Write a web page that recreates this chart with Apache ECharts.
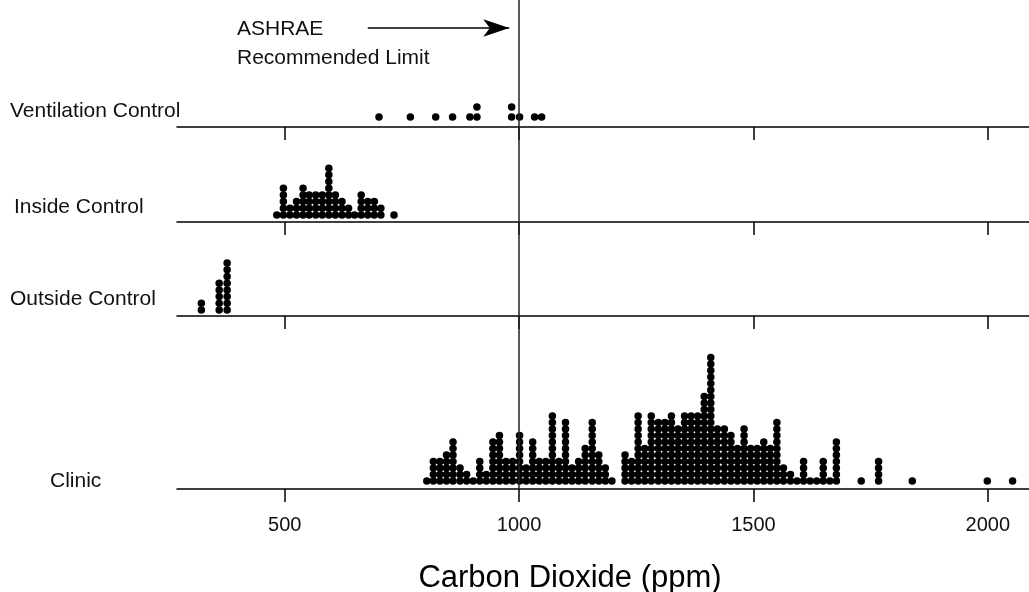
<!DOCTYPE html>
<html>
<head>
<meta charset="utf-8">
<script src="https://cdn.jsdelivr.net/npm/echarts@6/dist/echarts.min.js"></script>
<style>html,body{margin:0;padding:0;background:#fff}#c{width:1029px;height:592px}</style>
</head>
<body>
<div id="c"></div>
<script>
// ---- data (ppm bin centre, dots in column) ----
const panelNames = ['Ventilation Control', 'Inside Control', 'Outside Control', 'Clinic'];
const tickValues = [500, 1000, 1500, 2000];
const limitValue = 1000;

const ventX = [701, 768, 822, 858, 895, 910, 984, 1001, 1033, 1048];
const ventN = [1, 1, 1, 1, 1, 2, 2, 1, 1, 1];

const insideX = [483, 497, 511, 525, 539, 552, 566, 580, 594, 608, 622, 636, 649, 663, 677, 691, 705, 733];
const insideN = [1, 5, 2, 3, 5, 4, 4, 4, 8, 4, 3, 2, 1, 4, 3, 3, 2, 1];

const outsideX = [322, 360, 377];
const outsideN = [2, 5, 8];

const clinicX = [803, 817, 831, 845, 859, 874, 888, 902, 916, 930, 944, 958, 972, 986, 1001, 1015, 1029, 1043, 1057, 1071,
  1085, 1099, 1113, 1127, 1141, 1156, 1170, 1184, 1198, 1226, 1240, 1254, 1268, 1282, 1297, 1311, 1325, 1339, 1353, 1367,
  1381, 1395, 1409, 1423, 1438, 1452, 1466, 1480, 1494, 1508, 1522, 1536, 1550, 1564, 1579, 1593, 1607, 1621, 1635, 1649,
  1663, 1677, 1730, 1767, 1839, 1999, 2053];
const clinicN = [1, 4, 4, 5, 7, 3, 2, 1, 4, 2, 7, 8, 4, 4, 8, 3, 7, 4, 4, 11,
  4, 10, 3, 4, 6, 10, 5, 3, 1, 5, 4, 11, 6, 11, 10, 10, 11, 9, 11, 11,
  11, 14, 20, 9, 9, 8, 6, 9, 6, 6, 7, 6, 10, 3, 2, 1, 4, 1, 1, 4,
  1, 7, 1, 4, 1, 1, 1];

// ---- layout ----
const X_MIN = 270, X_MAX = 2088;
const FONT = '"Liberation Sans", Arial, sans-serif';
const grids = [
  {left: 177, right: 0, top: 40, height: 87},
  {left: 177, right: 0, top: 134, height: 88},
  {left: 177, right: 0, top: 228, height: 88},
  {left: 177, right: 0, top: 329, height: 160},
  {left: 177, right: 0, top: 0, height: 489}
];
const yRanges = [[0, 8.7], [-0.05, 13.1], [0.105, 13.24], [-0.23, 24.38], [0, 489]];

function expand(xs, ns) {
  const pts = [];
  xs.forEach((x, i) => { for (let j = 1; j <= ns[i]; j++) pts.push([x, j]); });
  return pts;
}
const panels = [[ventX, ventN], [insideX, insideN], [outsideX, outsideN], [clinicX, clinicN]];

const lineStyle = {color: '#000', width: 1.5};
const xAxes = grids.map((g, i) => ({
  type: 'value', gridIndex: i, min: X_MIN, max: X_MAX,
  axisLine: {show: i < 4, onZero: false, lineStyle},
  axisTick: {show: i < 4, length: 13, customValues: tickValues, lineStyle},
  axisLabel: {show: i === 3, customValues: tickValues, fontSize: 20, fontFamily: FONT, color: '#111', margin: 26,
    formatter: v => String(v)},
  splitLine: {show: false}
}));
const yAxes = grids.map((g, i) => ({type: 'value', gridIndex: i, min: yRanges[i][0], max: yRanges[i][1], show: false}));

const series = panels.map((p, i) => ({
  type: 'scatter', xAxisIndex: i, yAxisIndex: i, symbol: 'circle', symbolSize: 7.5,
  itemStyle: {color: '#000', opacity: 1}, data: expand(p[0], p[1]), silent: true
}));
series.push({
  type: 'line', xAxisIndex: 4, yAxisIndex: 4, data: [], silent: true,
  markLine: {
    silent: true, animation: false, label: {show: false},
    data: [
      [{coord: [limitValue, 0], symbol: 'none'}, {coord: [limitValue, 489], symbol: 'none', lineStyle: {color: '#222', width: 1.5, type: 'solid'}}],
      [{coord: [677, 461], symbol: 'none'}, {coord: [979, 461], symbol: 'arrow', symbolSize: [13, 26], lineStyle: {color: '#000', width: 1.5, type: 'solid'}}]
    ],
    lineStyle: {color: '#000', width: 1.5, type: 'solid'}
  }
});

const labelPos = [[10, 113], [14, 209], [10, 301], [50, 483]];
const graphics = panelNames.map((t, i) => ({
  type: 'text', left: labelPos[i][0], top: labelPos[i][1] - 12,
  style: {text: t, font: '21px ' + FONT, fill: '#111'}
}));
graphics.push({type: 'text', left: 237, top: 19, style: {text: 'ASHRAE', font: '21px ' + FONT, fill: '#111'}});
graphics.push({type: 'text', left: 237, top: 48, style: {text: 'Recommended Limit', font: '21px ' + FONT, fill: '#111'}});
graphics.push({type: 'text', x: 570, y: 578, style: {text: 'Carbon Dioxide (ppm)', font: '31px ' + FONT, fill: '#000', align: 'center', verticalAlign: 'middle'}});

const chart = echarts.init(document.getElementById('c'), null, {renderer: 'canvas'});
chart.setOption({
  animation: false, backgroundColor: '#fff',
  grid: grids, xAxis: xAxes, yAxis: yAxes, series, graphic: graphics
});
</script>
</body>
</html>
